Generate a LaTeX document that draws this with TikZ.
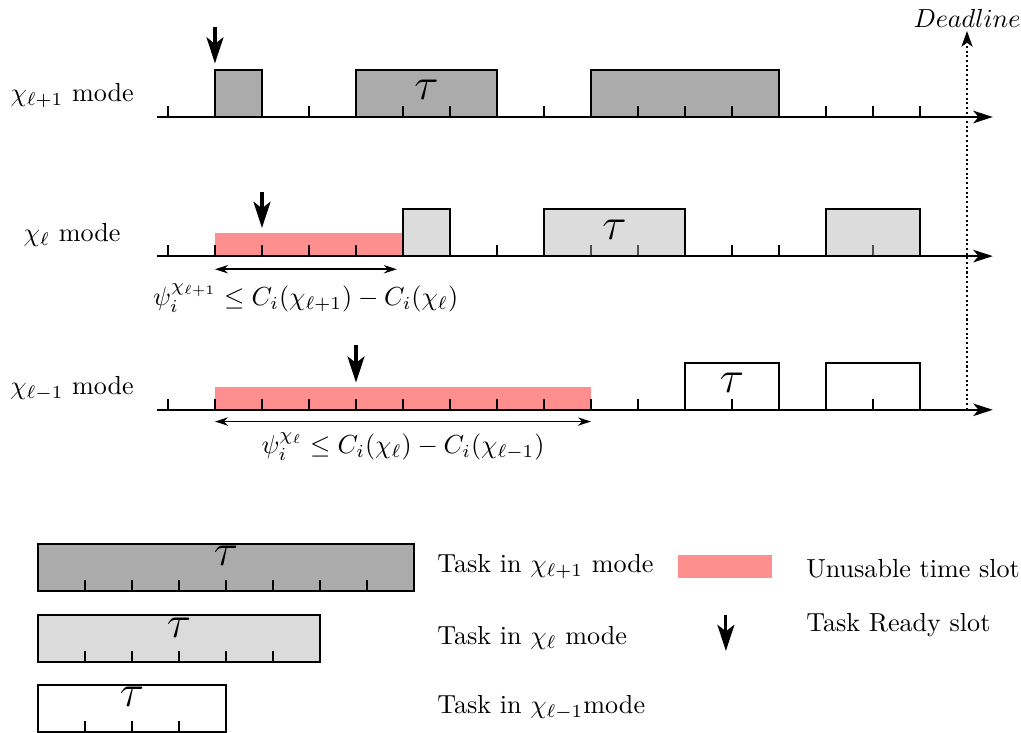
\documentclass[tikz,border=0pt]{standalone}
\usepackage{amsmath,amssymb}
\usepackage{tikz}
\usetikzlibrary{arrows.meta, positioning}

\begin{document}
\begin{tikzpicture}[
    x=18pt, y=18pt,
    axis/.style={thick, -{Stealth[length=7.5pt, width=4.8pt, inset=2pt]}},
    tickmark/.style={thick},
    hibox/.style={draw, thick, fill=black!33},
    midbox/.style={draw, thick, fill=black!30, fill opacity=0.46},
    midkey/.style={draw, thick, fill=black!14},
    lobox/.style={draw, thick, fill=white},
    unusable/.style={fill=red!44},
    ready/.style={line width=1.2pt, -{Stealth[length=10pt, width=6.5pt, inset=2.5pt]}},
    span/.style={semithick, {Stealth[length=5pt, width=3.2pt]}-{Stealth[length=5pt, width=3.2pt]}},
    tau/.style={font=\fontsize{16}{19}\selectfont, inner sep=0pt},
    keytext/.style={anchor=west, inner sep=0pt},
]
\useasboundingbox (-3.574,-13.106) rectangle (18.149,2.489);

% chi_{l+1} mode
\begin{scope}
  \node (mhi) at (-2.04,0.45) {$\chi_{\ell+1}$ mode};
  \draw[hibox] (1,0) rectangle (2,1);
  \draw[hibox] (4,0) rectangle (7,1);
  \draw[hibox] (9,0) rectangle (13,1);
  \foreach \i in {0,...,16} \draw[tickmark] (\i,0) -- (\i,0.23);
  \node[tau] (thi) at (5.5,0.57) {$\tau$};
  \draw[axis] (-0.23,0) -- (17.55,0);
  \draw[ready] (1,1.91) -- (1,1.14);
\end{scope}

% chi_l mode
\begin{scope}[shift={(0,-2.96)}]
  \node (mmid) at (-2.04,0.45) {$\chi_{\ell}$ mode};
  \fill[unusable] (1,0) rectangle (5,0.49);
  \foreach \i in {0,...,16} \draw[tickmark] (\i,0) -- (\i,0.23);
  \draw[midbox] (5,0) rectangle (6,1);
  \draw[midbox] (8,0) rectangle (11,1);
  \draw[midbox] (14,0) rectangle (16,1);
  \node[tau] (tmid) at (9.5,0.57) {$\tau$};
  \draw[axis] (-0.23,0) -- (17.55,0);
  \draw[ready] (2,1.36) -- (2,0.6);
  \draw[span] (1,-0.28) -- (4.87,-0.28);
  \node (psimid) at (2.93,-0.89) {$\psi_i^{\chi_{\ell+1}} \le C_i(\chi_{\ell+1}) - C_i(\chi_\ell)$};
\end{scope}

% chi_{l-1} mode
\begin{scope}[shift={(0,-6.23)}]
  \node (mlo) at (-2.04,0.45) {$\chi_{\ell-1}$ mode};
  \fill[unusable] (1,0) rectangle (9,0.49);
  \draw[lobox] (11,0) rectangle (13,1);
  \draw[lobox] (14,0) rectangle (16,1);
  \foreach \i in {0,...,16} \draw[tickmark] (\i,0) -- (\i,0.23);
  \node[tau] (tlo) at (12,0.57) {$\tau$};
  \draw[axis] (-0.23,0) -- (17.55,0);
  \draw[ready] (4,1.38) -- (4,0.58);
  \draw[span] (1,-0.25) -- (9,-0.25);
  \node (psilo) at (5,-0.79) {$\psi_i^{\chi_\ell} \le C_i(\chi_\ell) - C_i(\chi_{\ell-1})$};
\end{scope}

% Deadline
\draw[thick, densely dotted, -{Stealth[length=6pt, width=4.2pt, inset=1.5pt]}] (17,-6.23) -- (17,1.83);
\node (dl) at (17,2.1) {$Deadline$};

% Legend
\begin{scope}[shift={(-2.766,-10.085)}]
  \draw[hibox] (0,0) rectangle (8,1);
  \foreach \i in {1,...,7} \draw[tickmark] (\i,0) -- (\i,0.23);
  \node[tau] (khi) at (4,0.74) {$\tau$};
\end{scope}
\begin{scope}[shift={(-2.766,-11.6)}]
  \draw[midkey] (0,0) rectangle (6,1);
  \foreach \i in {1,...,5} \draw[tickmark] (\i,0) -- (\i,0.23);
  \node[tau] (kmid) at (3,0.74) {$\tau$};
\end{scope}
\begin{scope}[shift={(-2.766,-13.085)}]
  \draw[lobox] (0,0) rectangle (4,1);
  \foreach \i in {1,...,3} \draw[tickmark] (\i,0) -- (\i,0.23);
  \node[tau] (klo) at (2,0.74) {$\tau$};
\end{scope}

\node[keytext] (lhi) at (5.72,-9.57) {Task in $\chi_{\ell+1}$ mode};
\node[keytext] (lmid) at (5.72,-11.08) {Task in $\chi_{\ell}$ mode};
\node[keytext] (llo) at (5.72,-12.57) {Task in $\chi_{\ell-1}$mode};

\fill[unusable] (10.85,-9.81) rectangle (12.85,-9.32);
\node[keytext] (lun) at (13.57,-9.62) {Unusable time slot};
\draw[ready] (11.87,-10.6) -- (11.87,-11.36);
\node[keytext] (lrd) at (13.57,-10.82) {Task Ready slot};

\end{tikzpicture}
\end{document}
